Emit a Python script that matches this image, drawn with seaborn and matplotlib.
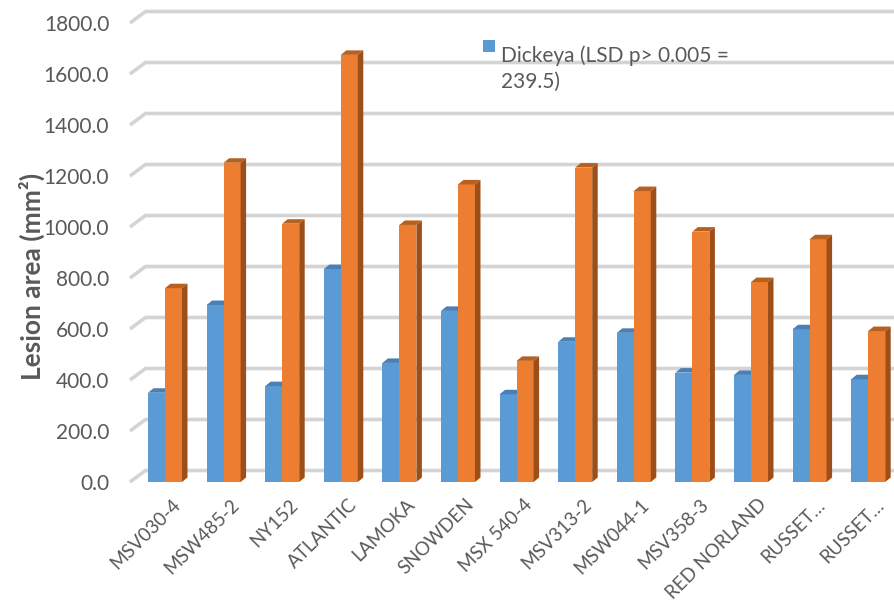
import matplotlib
matplotlib.use("Agg")
import matplotlib.pyplot as plt
import matplotlib.transforms as mtransforms
from matplotlib.patches import Polygon, Rectangle
import seaborn as sns
import pandas as pd

# Lesion area per cultivar / clone
cultivars = ["MSV030-4", "MSW485-2", "NY152", "ATLANTIC", "LAMOKA", "SNOWDEN",
             "MSX 540-4", "MSV313-2", "MSW044-1", "MSV358-3", "RED NORLAND",
             "RUSSET…", "RUSSET…"]
dickeya = [350, 694, 376, 835, 467, 671, 344, 550, 585, 429, 420, 599, 403]
other_isolate = [760, 1252, 1013, 1675, 1008, 1167, 475, 1233, 1141, 982, 784, 952, 592]
y_ticks = [0, 200, 400, 600, 800, 1000, 1200, 1400, 1600, 1800]
legend_label = "Dickeya (LSD p> 0.005 =\n239.5)"

sns.set_theme(style="white")
plt.rcParams["font.family"] = ["Lato", "DejaVu Sans"]

TEXT = "#595959"
BLUE, ORANGE = "#5B9BD5", "#ED7D31"
BLUE_TOP = "#4A80B4"
ORANGE_TOP, ORANGE_SIDE = "#B8601F", "#9E4E18"
GRID = "#D4D4D4"

n = len(cultivars)
df = pd.DataFrame({
    "idx": list(range(n)) * 2,
    "area": dickeya + other_isolate,
    "series": ["Dickeya"] * n + ["Other"] * n,
})

W, H = 894, 601
fig = plt.figure(figsize=(W / 100, H / 100), dpi=100)
left_px, base_px, step_px = 130, 482, 58.6
x_lo = -35 / step_px
x_hi = (W - 165) / step_px
y_hi = base_px / 0.255
ax = fig.add_axes([left_px / W, (H - base_px) / H, (W - left_px) / W, base_px / H])

sns.barplot(data=df, x="idx", y="area", hue="series", order=list(range(n)),
            palette=[BLUE, ORANGE], width=0.58, dodge=True, legend=False,
            saturation=1, linewidth=0, ax=ax, zorder=3)

ax.set_xlim(x_lo, x_hi)
ax.set_ylim(0, y_hi)

# pixel -> data conversions for the oblique depth
px_x = 1 / step_px
px_y = y_hi / base_px

# back wall gridlines with the diagonal floor/side edge
gdx, gdy = 15.5 * px_x, 11.5 * px_y
for v in y_ticks:
    ax.plot([x_lo, x_lo + gdx, x_hi], [v, v + gdy, v + gdy], color=GRID,
            lw=2.6, solid_capstyle="butt", zorder=1, clip_on=False)

# oblique top and side faces for each bar
bdx, bdy = 5.5 * px_x, 4.5 * px_y
for i, p in enumerate(ax.patches):
    x0 = p.get_x()
    x1 = x0 + p.get_width()
    h = p.get_height()
    is_blue = i < n
    z = 3.2 if is_blue else 4
    p.set_zorder(3 if is_blue else 3.8)
    top = Polygon([(x0, h), (x1, h), (x1 + bdx, h + bdy), (x0 + bdx, h + bdy)],
                  closed=True, facecolor=BLUE_TOP if is_blue else ORANGE_TOP,
                  edgecolor="none", zorder=z)
    side = Polygon([(x1, 0), (x1 + bdx, bdy), (x1 + bdx, h + bdy), (x1, h)],
                   closed=True, facecolor=BLUE_TOP if is_blue else ORANGE_SIDE,
                   edgecolor="none", zorder=z - 0.5 if is_blue else z)
    ax.add_patch(top)
    ax.add_patch(side)

for s in ax.spines.values():
    s.set_visible(False)

ax.set_yticks(y_ticks)
ax.set_yticklabels([f"{v:.1f}" for v in y_ticks], fontsize=15, color=TEXT)
ax.tick_params(axis="y", length=0, pad=15)
ax.set_xticks(range(n))
ax.set_xticklabels(cultivars, rotation=45, ha="right", rotation_mode="anchor",
                   fontsize=13.5, color=TEXT)
ax.tick_params(axis="x", length=0, pad=10)
shift = mtransforms.ScaledTranslation(7 / 100, 0, fig.dpi_scale_trans)
for lbl in ax.get_xticklabels():
    lbl.set_transform(lbl.get_transform() + shift)
ax.set_xlabel("")
ax.set_ylabel("")
ax.grid(False)

fig.text(32 / W, 1 - 276 / H, "Lesion area (mm²)", rotation=90, ha="center",
         va="center", fontsize=19, fontweight="bold", color=TEXT)

# legend entry
fig.patches.append(Rectangle((483 / W, 1 - 52 / H), 12 / W, 12 / H,
                             transform=fig.transFigure, facecolor=BLUE,
                             edgecolor="none"))
fig.text(501 / W, 1 - 45 / H, legend_label, ha="left", va="top", fontsize=15,
         color=TEXT, linespacing=1.4, transform=fig.transFigure)

fig.savefig("out.png", dpi=100)
